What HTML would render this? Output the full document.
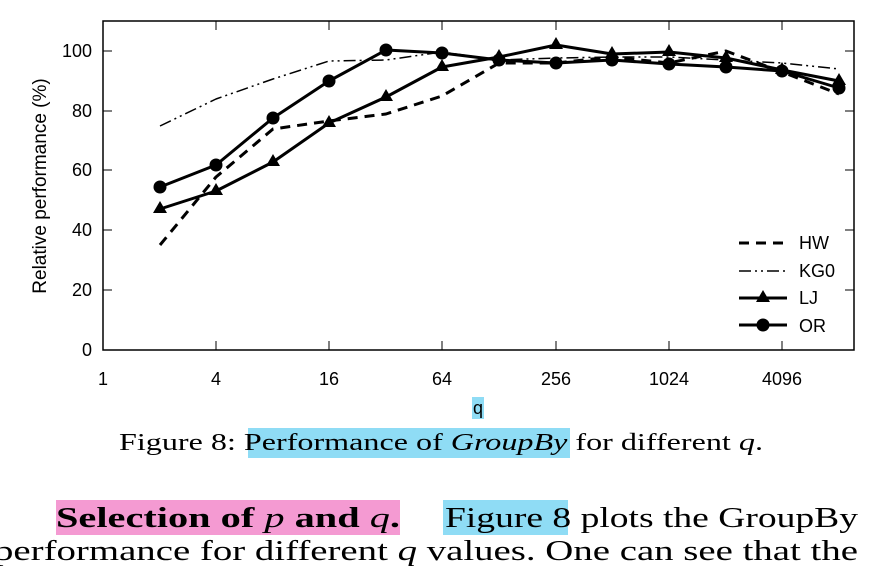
<!DOCTYPE html>
<html><head><meta charset="utf-8"><style>
html,body{margin:0;padding:0;background:#fff;}
svg{display:block;}
</style></head><body>
<svg width="882" height="572" viewBox="0 0 882 572" xmlns="http://www.w3.org/2000/svg">
<rect width="882" height="572" fill="#fff"/>
<rect x="472" y="397" width="12" height="22" fill="#8fdcf5"/>
<rect x="248" y="428" width="322" height="30" fill="#8fdcf5"/>
<rect x="56" y="500" width="344" height="35" fill="#f49ad2"/>
<rect x="443" y="500" width="125" height="35" fill="#8fdcf5"/>
<rect x="103" y="21" width="751" height="329" fill="none" stroke="#000" stroke-width="1.5"/>
<g stroke="#000" stroke-width="1">
<line x1="103" y1="51" x2="112" y2="51"/><line x1="103" y1="111" x2="112" y2="111"/><line x1="103" y1="170" x2="112" y2="170"/><line x1="103" y1="230" x2="112" y2="230"/><line x1="103" y1="290" x2="112" y2="290"/>
<line x1="854" y1="51" x2="845" y2="51"/><line x1="854" y1="111" x2="845" y2="111"/><line x1="854" y1="170" x2="845" y2="170"/><line x1="854" y1="230" x2="845" y2="230"/><line x1="854" y1="290" x2="845" y2="290"/>
<line x1="216" y1="350" x2="216" y2="341"/><line x1="329" y1="350" x2="329" y2="341"/><line x1="442" y1="350" x2="442" y2="341"/><line x1="556" y1="350" x2="556" y2="341"/><line x1="669" y1="350" x2="669" y2="341"/><line x1="782" y1="350" x2="782" y2="341"/>
<line x1="216" y1="21" x2="216" y2="30"/><line x1="329" y1="21" x2="329" y2="30"/><line x1="442" y1="21" x2="442" y2="30"/><line x1="556" y1="21" x2="556" y2="30"/><line x1="669" y1="21" x2="669" y2="30"/><line x1="782" y1="21" x2="782" y2="30"/>
</g>
<g font-family="Liberation Sans, sans-serif" font-size="18" fill="#000">
<g text-anchor="end"><text x="92" y="57">100</text><text x="92" y="117">80</text><text x="92" y="176">60</text><text x="92" y="236">40</text><text x="92" y="296">20</text><text x="92" y="356">0</text></g>
<g text-anchor="middle"><text x="103" y="385">1</text><text x="216" y="385">4</text><text x="329" y="385">16</text><text x="442" y="385">64</text><text x="556" y="385">256</text><text x="669" y="385">1024</text><text x="782" y="385">4096</text>
<text x="478" y="414">q</text>
<text transform="translate(46,186) rotate(-90)" font-size="19">Relative performance (%)</text></g>
<text x="799" y="249">HW</text><text x="799" y="277">KG0</text><text x="799" y="304">LJ</text><text x="799" y="332">OR</text>
</g>
<g fill="none" stroke="#000" stroke-width="3" stroke-linejoin="round">
<polyline stroke-dasharray="10,7" points="160,245 216,177 273,129 329,121 386,114 442,96 499,63 556,63 612,57 669,63 726,51 782,72 839,94"/>
<polyline stroke-width="1.5" stroke-dasharray="12,4,2,4,2,4" points="160,126 216,99 273,79 329,61 386,60 442,52 499,60 556,58 612,57 669,57 726,60 782,63 839,69"/>
<polyline points="160,209 216,191 273,162 329,123 386,97 442,67 499,57 556,45 612,54 669,52 726,58 782,70 839,81"/>
<polyline points="160,187 216,165 273,118 329,81 386,50 442,53 499,60 556,63 612,60 669,64 726,67 782,71 839,88"/>
<line stroke-dasharray="10,7" x1="739" y1="243" x2="787" y2="243"/>
<line stroke-width="1.5" stroke-dasharray="12,4,2,4,2,4" x1="739" y1="271" x2="787" y2="271"/>
<line x1="739" y1="298" x2="787" y2="298"/>
<line x1="739" y1="325" x2="787" y2="325"/>
</g>
<g fill="#000">
<path d="M160,201l7,12h-14z M216,183l7,12h-14z M273,154l7,12h-14z M329,115l7,12h-14z M386,89l7,12h-14z M442,59l7,12h-14z M499,49l7,12h-14z M556,37l7,12h-14z M612,46l7,12h-14z M669,44l7,12h-14z M726,50l7,12h-14z M782,62l7,12h-14z M839,73l7,12h-14z M763,290l7,12h-14z"/>
<circle cx="160" cy="187" r="6.5"/><circle cx="216" cy="165" r="6.5"/><circle cx="273" cy="118" r="6.5"/><circle cx="329" cy="81" r="6.5"/><circle cx="386" cy="50" r="6.5"/><circle cx="442" cy="53" r="6.5"/><circle cx="499" cy="60" r="6.5"/><circle cx="556" cy="63" r="6.5"/><circle cx="612" cy="60" r="6.5"/><circle cx="669" cy="64" r="6.5"/><circle cx="726" cy="67" r="6.5"/><circle cx="782" cy="71" r="6.5"/><circle cx="839" cy="88" r="6.5"/><circle cx="763" cy="325" r="6.5"/>
</g>
<g font-family="Liberation Serif, serif" fill="#000">
<text x="119" y="450" font-size="24" textLength="644" lengthAdjust="spacingAndGlyphs">Figure 8: Performance of <tspan font-style="italic">GroupBy</tspan> for different <tspan font-style="italic">q</tspan>.</text>
<text x="56" y="527" font-size="28" textLength="344" lengthAdjust="spacingAndGlyphs"><tspan font-weight="bold">Selection of </tspan><tspan font-style="italic">p</tspan><tspan font-weight="bold"> and </tspan><tspan font-style="italic">q</tspan><tspan font-weight="bold">.</tspan></text>
<text x="445" y="527" font-size="28" textLength="413" lengthAdjust="spacingAndGlyphs">Figure 8 plots the GroupBy</text>
<text x="-6" y="560" font-size="28" textLength="864" lengthAdjust="spacingAndGlyphs">performance for different <tspan font-style="italic">q</tspan> values.  One can see that the</text>
</g>
</svg>
</body></html>
